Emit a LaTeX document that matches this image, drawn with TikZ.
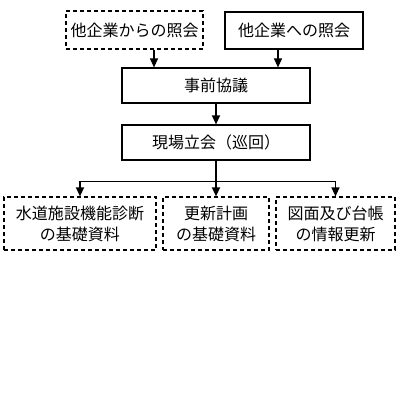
\documentclass[tikz,border=0pt]{standalone}
\usepackage{fontspec}
\setmainfont{Noto Sans CJK JP}
\usetikzlibrary{arrows.meta}
\tikzset{every picture/.style={line width=1.2pt}}
\tikzset{
  box/.style={draw, rectangle, inner sep=0pt, align=center,
    font=\fontsize{16}{21}\selectfont},
  dbox/.style={box, dashed, dash pattern=on 4pt off 3pt},
  arr/.style={-{Triangle[length=9pt,width=8pt]}},
}

\begin{document}
\begin{tikzpicture}[x=1pt,y=-1pt]
	\useasboundingbox (0,0) rectangle (401,400);
	%
	\node[dbox, minimum width=137pt, minimum height=38pt] (from) at (134.5,30) {他企業からの照会};
	\node[box, minimum width=138pt, minimum height=37pt] (to) at (294,30.5) {他企業への照会};
	\node[box, minimum width=188pt, minimum height=35pt] (kyogi) at (216,85.5) {事前協議};
	\node[box, minimum width=188pt, minimum height=35pt] (tachiai) at (216,142.5) {現場立会（巡回）};
	%
	\node[dbox, minimum width=152pt, minimum height=53pt] (shindan) at (80,223.5) {水道施設機能診断\\の基礎資料};
	\node[dbox, minimum width=106pt, minimum height=53pt] (keikaku) at (216,223.5) {更新計画\\の基礎資料};
	\node[dbox, minimum width=119pt, minimum height=53pt] (daicho) at (335.5,223.5) {図面及び台帳\\の情報更新};
	%
	\draw[arr] ([xshift=19.5pt]from.south) -- ([xshift=19.5pt]from.south |- kyogi.north);
	\draw[arr] ([xshift=-16pt]to.south) -- ([xshift=-16pt]to.south |- kyogi.north);
	\draw[arr] (kyogi) -- (tachiai);
	%
	\draw (tachiai.south) -- ++(0,20.5) coordinate (split);
	\draw[arr] (split) -- (keikaku.north);
	\draw[arr] (split) -| (shindan.north);
	\draw[arr] (split) -| (daicho.north);
\end{tikzpicture}
\end{document}
